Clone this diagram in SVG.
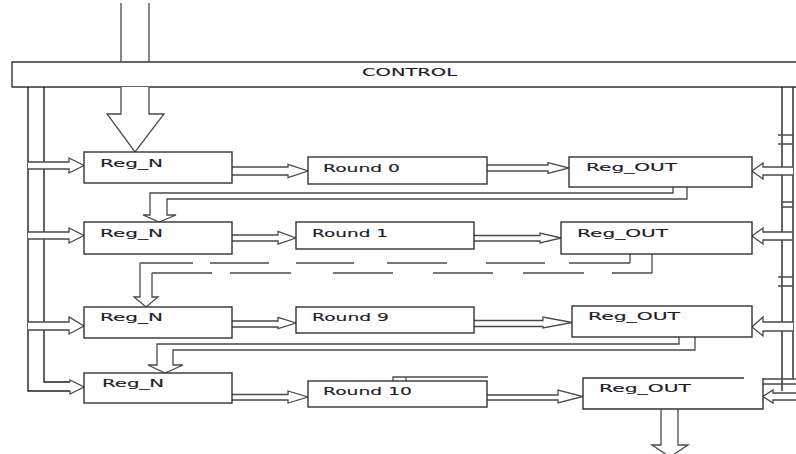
<svg xmlns="http://www.w3.org/2000/svg" width="796" height="454" viewBox="0 0 796 454">
<style>
.box{fill:#fff;stroke:#333;stroke-width:1.4}
.ln{fill:none;stroke:#4a4a4a;stroke-width:1.3}
.bus{fill:none;stroke:#222;stroke-width:1.4}
.ah{fill:#fff;stroke:#4a4a4a;stroke-width:1.3;stroke-linejoin:miter}
text{font-family:"DejaVu Sans","Verdana",sans-serif;font-size:11px;fill:#1c1c28;stroke:#1c1c28;stroke-width:0.12}
</style>
<rect width="796" height="454" fill="#fff"/>
<g id="control">
<path class="box" d="M800,62 H12 V87 H800"/>
<text x="362" y="76" font-size="11.5" textLength="95" lengthAdjust="spacingAndGlyphs">CONTROL</text>
</g>
<g id="connectors">
<path class="ln" d="M121,3 V62 M149,3 V62"/>
<path class="ah" d="M121,87 V114 H107 L135,152 L164,114 H149 V87"/>
<path class="bus" d="M28,87 V391 H70"/>
<path class="bus" d="M44,87 V382 H70"/>
<path class="ah" d="M70,382 V380 L84,387 L70,394 V391"/>
<path class="ah" d="M28,162 H69 V158 L84,165.5 L69,173 V169 H28"/>
<path class="ah" d="M28,232 H69 V228 L84,235.5 L69,243 V239 H28"/>
<path class="ah" d="M28,322 H69 V317 L84,326 L69,334 V330 H28"/>
<path class="bus" d="M782,87 V391"/>
<path class="bus" d="M793,87 V379"/>
<path class="ln" d="M778,135 H793 M778,144 H793 M782,202 H793 M782,207 H793 M778,277 H793 M778,286 H793 M763,379 H796 M763,384 H796"/>
<path class="ah" d="M793,167 H763 V163 L752,171 L763,179 V175 H793"/>
<path class="ah" d="M792,232 H763 V228 L752,236 L763,244 V240 H792"/>
<path class="ah" d="M793,322 H763 V317 L752,327 L763,336 V331 H793"/>
<path class="ah" d="M796,393 H773 V390 L763,396.5 L773,403 V400 H796"/>
<path class="ah" d="M232,167 H288 V164.5 L308,171 L288,177.5 V175 H232"/>
<path class="ah" d="M487,165 H548 V162.5 L569,168 L548,173.5 V171 H487"/>
<path class="ah" d="M673,187 V193 H150 V215 H143 L159,222 L176,215 H167 V199 H687 V187"/>
<path class="ah" d="M232,235 H278 V231.5 L296,238 L278,244 V241 H232"/>
<path class="ah" d="M474,235.5 H540 V233 L561,238 L540,243 V241 H474"/>
<path class="ln" d="M630,254 V263 M652,254 V273"/>
<path class="ln" d="M140,263 H193 M210,263 H269 M296,263 H354 M387,263 H447 M486,263 H545 M569,263 H630"/>
<path class="ln" d="M152,273 H212 M230,273 H291 M333,273 H393 M433,273 H493 M523,273 H584 M612,273 H652"/>
<path class="ah" d="M140,263 V297 H134 L146,307 L158,297 H152 V273"/>
<path class="ah" d="M232,321 H278 V317.5 L296,323 L278,328.5 V327 H232"/>
<path class="ah" d="M474,320.5 H543 V317 L572,322.5 L543,328 V326.5 H474"/>
<path class="ah" d="M679,337 V344 H157 V365 H148 L165,373 L183,365 H173 V350 H695 V337"/>
<path class="ah" d="M232,394.5 H288 V391 L308,397 L288,403 V400 H232"/>
<path class="ah" d="M487,395 H558 V390 L583,396.5 L558,403 V400 H487"/>
<path class="ln" d="M393,381 V377 H488 M406,377 V381"/>
<path class="ah" d="M661,409 V445 H652 L670,457 L688,445 H678 V409"/>
</g>
<g id="reg_n_1">
<rect class="box" x="84" y="152" width="148" height="31"/>
<text x="100" y="167" textLength="63" lengthAdjust="spacingAndGlyphs">Reg_N</text>
</g>
<g id="round_0">
<rect class="box" x="308" y="157" width="179" height="27"/>
<text x="323" y="172" textLength="77" lengthAdjust="spacingAndGlyphs">Round 0</text>
</g>
<g id="reg_out_1">
<rect class="box" x="569" y="157" width="183" height="30"/>
<text x="586" y="171" textLength="91" lengthAdjust="spacingAndGlyphs">Reg_OUT</text>
</g>
<g id="reg_n_2">
<rect class="box" x="84" y="222" width="148" height="32"/>
<text x="100" y="237" textLength="63" lengthAdjust="spacingAndGlyphs">Reg_N</text>
</g>
<g id="round_1">
<rect class="box" x="296" y="222" width="178" height="27"/>
<text x="312" y="237" textLength="76" lengthAdjust="spacingAndGlyphs">Round 1</text>
</g>
<g id="reg_out_2">
<rect class="box" x="561" y="222" width="191" height="32"/>
<text x="577" y="237" textLength="91" lengthAdjust="spacingAndGlyphs">Reg_OUT</text>
</g>
<g id="reg_n_3">
<rect class="box" x="84" y="307" width="148" height="31"/>
<text x="100" y="321" textLength="63" lengthAdjust="spacingAndGlyphs">Reg_N</text>
</g>
<g id="round_9">
<rect class="box" x="296" y="307" width="178" height="26"/>
<text x="312" y="321" textLength="77" lengthAdjust="spacingAndGlyphs">Round 9</text>
</g>
<g id="reg_out_3">
<rect class="box" x="572" y="306" width="180" height="31"/>
<text x="588" y="320" textLength="92" lengthAdjust="spacingAndGlyphs">Reg_OUT</text>
</g>
<g id="reg_n_4">
<rect class="box" x="84" y="373" width="148" height="30"/>
<text x="102" y="387" textLength="62" lengthAdjust="spacingAndGlyphs">Reg_N</text>
</g>
<g id="round_10">
<rect class="box" x="308" y="381" width="179" height="26"/>
<text x="323" y="395" textLength="89" lengthAdjust="spacingAndGlyphs">Round 10</text>
</g>
<g id="reg_out_4">
<path class="box" d="M744,378 H583 V409 H763 V378"/>
<text x="599" y="392" textLength="92" lengthAdjust="spacingAndGlyphs">Reg_OUT</text>
</g>
</svg>
